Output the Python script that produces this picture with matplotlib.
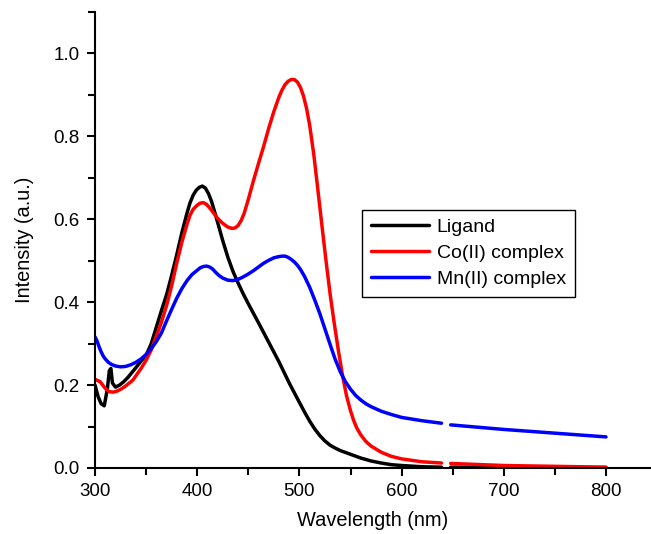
import numpy as np
import matplotlib
matplotlib.use("Agg")
import matplotlib.pyplot as plt
from matplotlib.ticker import MultipleLocator, FormatStrFormatter

plt.rcParams["font.family"] = ["Liberation Sans", "DejaVu Sans"]

# Ligand (black)
wl_ligand = [300, 303, 306, 309, 312, 314, 315.5, 317, 320, 324, 328, 332, 336, 340,
             345, 350, 355, 360, 365, 370, 375, 380, 385, 390, 393, 396, 399, 402,
             405, 408, 411, 414, 417, 420, 425, 430, 435, 440, 445, 450, 460, 470,
             480, 490, 500, 505, 510, 515, 520, 525, 530, 535, 540, 550, 560, 570,
             580, 590, 600, 620, 639,
             np.nan, 648, 700, 800]
int_ligand = [0.200, 0.172, 0.155, 0.150, 0.190, 0.235, 0.240, 0.205, 0.195, 0.200,
              0.208, 0.218, 0.230, 0.242, 0.258, 0.272, 0.300, 0.340, 0.380, 0.418,
              0.465, 0.515, 0.568, 0.615, 0.640, 0.658, 0.670, 0.677, 0.680, 0.675,
              0.662, 0.643, 0.618, 0.592, 0.548, 0.508, 0.474, 0.446, 0.420, 0.396,
              0.350, 0.303, 0.256, 0.205, 0.158, 0.135, 0.113, 0.094, 0.078, 0.065,
              0.055, 0.048, 0.042, 0.033, 0.024, 0.017, 0.012, 0.008, 0.006, 0.003,
              0.002, np.nan, 0.002, 0.001, 0.001]

# Co(II) complex (red)
wl_co = [300, 305, 310, 314, 318, 322, 326, 330, 337, 345, 350, 355, 360, 365, 370,
         375, 380, 385, 390, 393, 396, 400, 403, 406, 409, 412, 416, 420, 425, 430,
         434, 437, 440, 443, 446, 450, 455, 460, 465, 470, 475, 480, 483, 486, 489,
         492, 495, 498, 501, 504, 507, 510, 514, 518, 522, 526, 530, 534, 538, 542,
         546, 550, 553, 556, 560, 565, 570, 580, 590, 600, 620, 639,
         np.nan, 648, 700, 750, 800]
int_co = [0.214, 0.208, 0.192, 0.184, 0.183, 0.186, 0.191, 0.198, 0.212, 0.240,
          0.260, 0.285, 0.318, 0.352, 0.392, 0.440, 0.495, 0.545, 0.588, 0.610,
          0.624, 0.634, 0.639, 0.640, 0.636, 0.628, 0.615, 0.602, 0.590, 0.581,
          0.578, 0.579, 0.585, 0.597, 0.615, 0.648, 0.693, 0.735, 0.776, 0.820,
          0.860, 0.895, 0.912, 0.925, 0.933, 0.937, 0.937, 0.931, 0.918, 0.897,
          0.867, 0.827, 0.757, 0.672, 0.585, 0.500, 0.420, 0.350, 0.285, 0.225,
          0.175, 0.138, 0.115, 0.097, 0.080, 0.064, 0.053, 0.038, 0.028, 0.022,
          0.015, 0.012, np.nan, 0.011, 0.006, 0.004, 0.002]

# Mn(II) complex (blue)
wl_mn = [300, 302, 304, 306, 308, 310, 313, 316, 320, 325, 330, 335, 340, 345, 350,
         355, 360, 365, 370, 375, 380, 385, 390, 395, 400, 403, 406, 409, 412, 415,
         418, 421, 425, 430, 435, 440, 445, 450, 455, 460, 465, 470, 475, 480, 483,
         486, 489, 492, 495, 498, 501, 505, 510, 515, 520, 525, 530, 535, 540, 545,
         550, 555, 560, 565, 570, 580, 590, 600, 620, 639,
         np.nan, 648, 700, 750, 800]
int_mn = [0.316, 0.306, 0.292, 0.280, 0.270, 0.263, 0.255, 0.250, 0.246, 0.244,
          0.245, 0.249, 0.255, 0.263, 0.274, 0.288, 0.305, 0.326, 0.355, 0.383,
          0.410, 0.433, 0.452, 0.467, 0.477, 0.483, 0.486, 0.487, 0.485, 0.480,
          0.472, 0.465, 0.458, 0.453, 0.452, 0.455, 0.461, 0.468, 0.476, 0.485,
          0.494, 0.501, 0.507, 0.510, 0.511, 0.511, 0.508, 0.503, 0.497, 0.489,
          0.479, 0.462, 0.436, 0.405, 0.372, 0.335, 0.298, 0.262, 0.232, 0.208,
          0.190, 0.175, 0.164, 0.155, 0.148, 0.137, 0.129, 0.122, 0.114, 0.108,
          np.nan, 0.104, 0.093, 0.084, 0.075]

series = [
    ("Ligand", wl_ligand, int_ligand, "black"),
    ("Co(II) complex", wl_co, int_co, "#ff0000"),
    ("Mn(II) complex", wl_mn, int_mn, "#0000ff"),
]

fig = plt.figure(figsize=(6.51, 5.34), dpi=100)
ax = fig.add_axes([0.146, 0.1236, 0.854, 0.854])

for nome, x, y, cor in series:
    ax.plot(x, y, color=cor, lw=2.5, label=nome,
            solid_joinstyle="round", solid_capstyle="round")

ax.set_xlim(300, 844)
ax.set_ylim(0, 1.1)
ax.xaxis.set_major_locator(MultipleLocator(100))
ax.xaxis.set_minor_locator(MultipleLocator(50))
ax.yaxis.set_major_locator(MultipleLocator(0.2))
ax.yaxis.set_minor_locator(MultipleLocator(0.1))
ax.yaxis.set_major_formatter(FormatStrFormatter("%.1f"))

for lado in ["top", "right"]:
    ax.spines[lado].set_visible(False)
for lado in ["left", "bottom"]:
    ax.spines[lado].set_linewidth(1.5)

ax.tick_params(which="major", direction="out", length=6, width=1.5,
               labelsize=13.5, pad=5)
ax.tick_params(which="minor", direction="out", length=5, width=1.5)

ax.set_xlabel("Wavelength (nm)", fontsize=14.4, labelpad=8)
ax.set_ylabel("Intensity (a.u.)", fontsize=14.4, labelpad=14)

leg = ax.legend(loc="upper left", bbox_to_anchor=(0.48, 0.566), borderaxespad=0,
                fontsize=14, handlelength=3.0, handletextpad=0.4, labelspacing=0.42,
                borderpad=0.45, fancybox=False, framealpha=1)
leg.get_frame().set_edgecolor("black")
leg.get_frame().set_linewidth(1.0)

fig.savefig("out.png", dpi=100)
